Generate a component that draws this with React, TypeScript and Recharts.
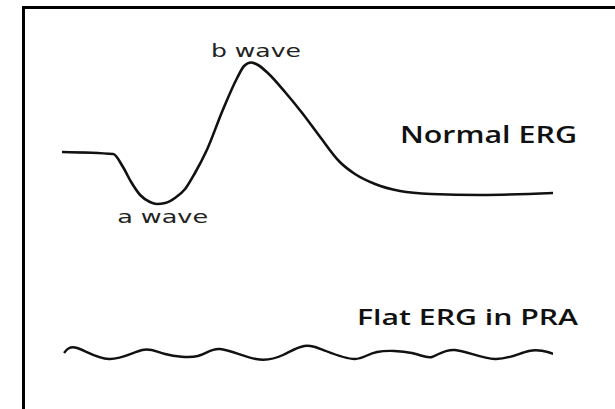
import React from "react";
import { LineChart, Line, XAxis, YAxis, ReferenceDot } from "recharts";

// ── Normal ERG trace (time in ms, amplitude in µV) ───────────────────────────
const NORMAL_TIME = [0, 12.5, 14.9, 16.9, 19.1, 21.5, 23.2, 25.2, 27.6, 30.1, 32.5, 35.4, 39.3, 42.8, 44.5, 46.2, 47.9, 50.3, 54.5, 58.7, 63.1, 67.9, 71.6, 76.5, 82.6, 90.2, 102.2, 120];
const NORMAL_UV = [0, -4, -30, -60, -86, -100, -104, -102, -92, -74, -42, 4, 84, 148, 172, 179, 174, 158, 120, 78, 30, -20, -44, -64, -78, -84, -86, -82];

// ── Flat ERG trace (retinitis pigmentosa) ────────────────────────────────────
const FLAT_TIME = [0.5, 3.7, 11.5, 19.6, 25.2, 33.2, 38.6, 47.4, 54, 59.2, 64.5, 71.6, 77, 85.5, 90.4, 96, 105.8, 114.1, 120.2];
const FLAT_UV = [-1, 4, -7, 2, -2, -4, 3, -7, -3, 6, 1, -7, 0, -1, -5, 2, -7, 1, -2];

// ── annotations ──────────────────────────────────────────────────────────────
const LABEL_TEXT = ["b wave", "a wave", "Normal ERG", "Flat ERG in PRA"];
const LABEL_TIME = [47.4, 24.6, 82.6, 72.1];
const LABEL_UV = [190, -142, 18, 27];
const LABEL_AXIS = ["normal", "normal", "normal", "flat"];

const normalData = NORMAL_TIME.map((t, i) => ({ t, v: NORMAL_UV[i] }));
const flatData = FLAT_TIME.map((t, i) => ({ t, v: FLAT_UV[i] }));

// style per label
const labelStyle = (i: number) => {
  if (i === 0) return { anchor: "middle", size: 18, weight: 400, len: 90, font: "'DejaVu Sans', sans-serif" };
  if (i === 1) return { anchor: "middle", size: 18, weight: 400, len: 91, font: "'DejaVu Sans', sans-serif" };
  if (i === 2) return { anchor: "start", size: 23, weight: 600, len: 177, font: "'Open Sans', sans-serif" };
  return { anchor: "start", size: 22, weight: 600, len: 221, font: "'Open Sans', sans-serif" };
};

function textContent(i: number) {
  const s = labelStyle(i);
  return (props: any) => {
    const vb = props.viewBox || {};
    return (
      <text
        x={vb.x}
        y={vb.y}
        textAnchor={s.anchor}
        fontFamily={s.font}
        fontSize={s.size}
        fontWeight={s.weight}
        fill={i < 2 ? "#222" : "#111"}
        textLength={s.len}
        lengthAdjust="spacingAndGlyphs"
      >
        {LABEL_TEXT[i]}
      </text>
    );
  };
}

export default function App() {
  return (
    <div style={{ position: "absolute", left: 0, top: 0, width: 615, height: 409, background: "#fff", overflow: "hidden" }}>
      {/* frame */}
      <div style={{ position: "absolute", left: 22, top: 6, right: 0, bottom: 0, borderLeft: "3px solid #000", borderTop: "3px solid #000" }} />
      <div style={{ position: "absolute", left: 0, top: 0 }}>
        <LineChart width={615} height={409} margin={{ top: 2, right: 62, bottom: 7, left: 62 }}>
          <XAxis type="number" dataKey="t" domain={[0, 120]} allowDataOverflow hide />
          <YAxis yAxisId="normal" type="number" domain={[-500, 300]} allowDataOverflow hide />
          <YAxis yAxisId="flat" type="number" domain={[-50, 350]} allowDataOverflow hide />
          <Line
            data={normalData}
            dataKey="v"
            yAxisId="normal"
            type="monotone"
            stroke="#111"
            strokeWidth={2.6}
            dot={false}
            activeDot={false}
            isAnimationActive={false}
          />
          <Line
            data={flatData}
            dataKey="v"
            yAxisId="flat"
            type="natural"
            stroke="#111"
            strokeWidth={2.4}
            dot={false}
            activeDot={false}
            isAnimationActive={false}
          />
          {LABEL_TEXT.map((_, i) => (
            <ReferenceDot
              key={i}
              x={LABEL_TIME[i]}
              y={LABEL_UV[i]}
              yAxisId={LABEL_AXIS[i]}
              r={0}
              stroke="none"
              fill="none"
              label={{ content: textContent(i) }}
            />
          ))}
        </LineChart>
      </div>
    </div>
  );
}
